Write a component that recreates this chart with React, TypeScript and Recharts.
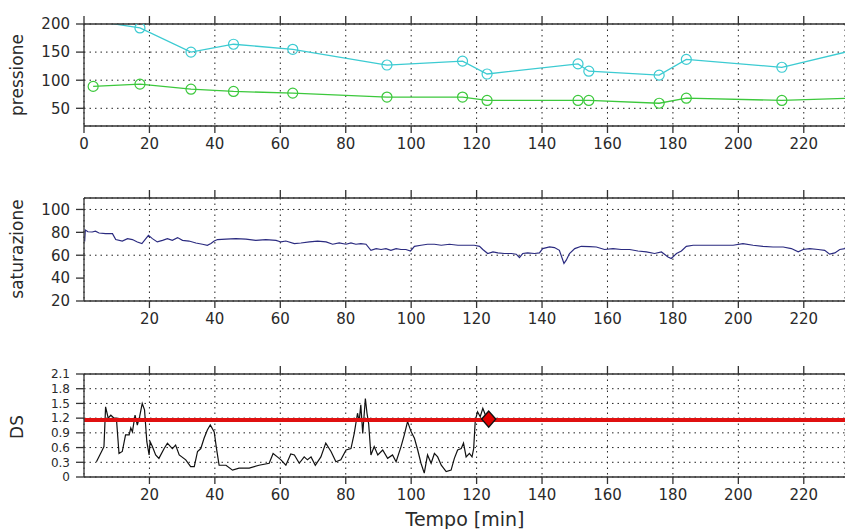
import { CartesianGrid, Line, LineChart, ReferenceDot, ReferenceLine, XAxis, YAxis } from 'recharts'

// time axis is cut off by the picture on the right, so the domain ends there
const T_MAX = 232.6
const X_TICKS_ALL = [0, 20, 40, 60, 80, 100, 120, 140, 160, 180, 200, 220]
const X_TICKS = [20, 40, 60, 80, 100, 120, 140, 160, 180, 200, 220]

// pressione: systolic (cyan) and diastolic (green) readings
const BP_T = [2.8, 17.1, 32.7, 45.7, 63.8, 92.6, 115.7, 123.2, 151, 154.3, 175.8, 184.1, 213.3, 245]
const SYS = [206, 193, 150, 164, 155, 127, 134, 111, 129, 116, 109, 137, 123, 167]
const DIA = [89, 93, 84, 80, 77, 70, 70, 64, 64, 64, 59, 68, 64, 70]
const BP_TICKS = [50, 100, 150, 200]

// saturazione
const SAT_T = [
  0.2, 0.4, 1.2, 2.5, 3.5, 4.6, 6.6, 8.7, 9.7, 11.7, 13.3, 14.8, 16.3, 17.7, 18.9, 19.7, 20.9, 22.4, 24, 25.5,
  27, 28.6, 30.1, 32.1, 34.2, 36.2, 37.7, 38.8, 39.8, 40.8, 43.4, 46.4, 49.5, 52.5, 55.6, 58.7, 60.2, 61.7, 64.3,
  66.3, 68.9, 71.4, 74, 76, 78, 80.1, 81.6, 83.1, 84.6, 86.2, 87.7, 89.3, 90.8, 92.3, 93.8, 95.4, 96.9, 98.4,
  99.8, 101, 103, 105, 107.1, 109.2, 111.7, 114.3, 116.8, 119.3, 120.9, 121.9, 123.4, 125, 126.5, 128.5, 130.6,
  132.1, 133.1, 134.1, 135.6, 137.7, 139.2, 140.2, 142.3, 143.8, 145.3, 146.7, 147.4, 148.4, 150, 152, 154.5,
  156.6, 159.1, 161.7, 164.2, 166.8, 169.3, 171.9, 174.4, 176.5, 178.5, 179.5, 181.1, 182.6, 184.1, 186.2,
  189.3, 192.3, 195.3, 198.4, 201.4, 204.5, 207.5, 210.6, 213.7, 216.2, 218.3, 219.8, 221.8, 224.4, 226.4,
  227.9, 229.5, 231, 232.6,
]
const SAT_V = [
  72, 82, 80.5, 80.3, 81, 79.4, 78.9, 78.9, 73.7, 72.4, 74.5, 73.7, 71.6, 70.2, 74.5, 77.4, 74.5, 71.6, 73, 74.5,
  73, 75.4, 73, 72.4, 70.7, 69.6, 68.7, 70.2, 72.4, 73.7, 74, 74.5, 74, 73, 73.7, 73, 71.6, 72.4, 70.2,
  70.7, 71.6, 72.4, 71.6, 69.6, 70.7, 69.6, 70.7, 69.6, 70.2, 69.6, 64.3, 65.8, 65, 65.8, 64.3, 65.8, 65, 65,
  63.7, 67.8, 68.7, 69.6, 69.6, 68.7, 69.6, 68.7, 68.7, 68.7, 67.8, 65, 61.5, 62.9, 62, 61.5, 61.5,
  60.9, 58, 61.5, 62, 61.5, 62, 65.8, 67.2, 66.7, 64.3, 52.8, 55.7, 61.5, 65.8, 67.8, 67.5,
  67.2, 65, 65.8, 65, 65, 63.7, 62.9, 61.5, 62.9, 58.5, 57.1, 61.5, 63.7, 67.8, 68.7,
  68.7, 68.7, 68.7, 68.7, 70.2, 68.7, 67.8, 67.2, 67.2, 65.8, 62.9, 65, 65.8, 65, 64.3,
  60.9, 62, 65, 65.8,
]
const SAT_TICKS = [20, 40, 60, 80, 100]

// DS
const DS_T = [
  3.8, 5.6, 6.1, 6.6, 7.4, 8.2, 9.2, 9.9, 10.7, 11.7, 12.7, 13.8, 14.3, 14.8, 15.6, 16.3, 17, 17.8, 18.5, 19.2,
  19.9, 20.2, 20.9, 21.9, 22.9, 24.5, 25.5, 27, 28, 29.1, 31.1, 32.6, 33.7, 34.7, 35.7, 36.7, 37.7, 38.6, 39.8,
  40.5, 41.3, 43.4, 45.4, 47.4, 50.5, 53.5, 56.6, 57.8, 59.1, 60.2, 61.7, 63.2, 64.3, 65.8, 67.3, 68.3, 69.4,
  70.7, 72.4, 73.9, 75.5, 77, 78.5, 80.1, 81.6, 82.6, 83.6, 84.1, 84.6, 85.2, 86, 86.5, 87, 87.7, 88.7, 89.8,
  91.3, 92.8, 94.3, 95.4, 96.9, 97.9, 98.9, 100, 101, 102, 103, 104, 105, 106.1, 107.1, 108.1, 109.2, 110.7,
  112.2, 113.2, 114.2, 115.3, 116, 116.8, 117.8, 118.6, 119.1, 119.6, 120.3, 121.1, 121.9, 122.9,
]
const DS_V = [
  0.31, 0.55, 0.62, 1.43, 1.2, 1.26, 1.2, 1.2, 0.48, 0.52, 0.86, 0.86, 1.0, 0.92, 1.26, 1.06, 1.23, 1.5, 1.37, 0.72,
  0.45, 0.72, 0.62, 0.45, 0.38, 0.58, 0.69, 0.58, 0.65, 0.45, 0.35, 0.21, 0.21, 0.52, 0.58, 0.79, 0.96, 1.06, 0.92,
  0.58, 0.24, 0.24, 0.14, 0.18, 0.18, 0.24, 0.28, 0.48, 0.41, 0.35, 0.24, 0.47, 0.45, 0.28, 0.41, 0.35, 0.41,
  0.24, 0.41, 0.69, 0.52, 0.31, 0.35, 0.55, 0.58, 0.89, 1.3, 1.13, 1.47, 0.89, 1.6, 1.3, 1.09, 0.45, 0.62, 0.45,
  0.55, 0.38, 0.45, 0.31, 0.62, 0.86, 1.13, 0.92, 0.79, 0.55, 0.28, 0.08, 0.45, 0.28, 0.48, 0.41, 0.24, 0.11,
  0.14, 0.38, 0.55, 0.58, 0.69, 0.41, 0.48, 0.41, 0.58, 1.16, 1.33, 1.23, 1.4, 1.23,
]
const DS_THRESHOLD = 1.16
const DS_LAST = { t: 123.7, ds: 1.18 }
const DS_TICKS = [0, 0.3, 0.6, 0.9, 1.2, 1.5, 1.8, 2.1]

const bpData = BP_T.map((t, i) => ({ t, sys: SYS[i], dia: DIA[i] }))
const satData = SAT_T.map((t, i) => ({ t, sat: SAT_V[i] }))
const dsData = DS_T.map((t, i) => ({ t, ds: DS_V[i] }))

const FONT = '"DejaVu Sans", sans-serif'
const INK = '#2a2a2a'
const tickStyle = { fontSize: 15, fill: INK, fontFamily: FONT }
// DS ticks sit only ~15px apart, so they get a smaller size
const dsTickStyle = { fontSize: 12, fill: INK, fontFamily: FONT }
const axisLine = { stroke: '#333', strokeWidth: 1.3 }
const W = 845
const H = 160

// open circle markers, hidden for readings that fall outside the visible window
const ringDot = (color: string, key: 'sys' | 'dia') => (props: any) => {
  const { cx, cy, payload, index } = props
  if (payload.t > T_MAX || payload[key] > 200) return <g key={index} />
  return <circle key={index} cx={cx} cy={cy} r={5} fill="none" stroke={color} strokeWidth={1.2} />
}

function timeAxes(ticks: number[], topTicks: number[], bottomHeight: number) {
  return [
    <XAxis
      key="b"
      dataKey="t"
      type="number"
      domain={[0, T_MAX]}
      allowDataOverflow
      ticks={ticks}
      interval={0}
      height={bottomHeight}
      tickSize={7}
      tickMargin={5}
      tick={tickStyle}
      axisLine={axisLine}
      tickLine={axisLine}
    />,
    <XAxis
      key="t"
      xAxisId="top"
      orientation="top"
      dataKey="t"
      type="number"
      domain={[0, T_MAX]}
      allowDataOverflow
      ticks={topTicks}
      interval={0}
      height={8}
      tickSize={8}
      tickFormatter={() => ''}
      axisLine={axisLine}
      tickLine={axisLine}
    />,
  ]
}

export default function App() {
  return (
    <div style={{ position: 'absolute', left: 0, top: 0, width: W, height: 529, background: '#fff', overflow: 'hidden' }}>
      <div style={{ position: 'absolute', left: 0, top: 0 }}>
        <LineChart width={W} height={H} data={bpData} margin={{ top: 16, right: 0, bottom: 0, left: 0 }}>
          <CartesianGrid stroke="#222" strokeDasharray="1.5 4" />
          {timeAxes(X_TICKS_ALL, X_TICKS_ALL, 34)}
          <YAxis
            domain={[18.5, 200]}
            allowDataOverflow
            ticks={BP_TICKS}
            width={84}
            tickSize={8}
            tickMargin={6}
            tick={tickStyle}
            axisLine={axisLine}
            tickLine={axisLine}
          />
          <Line
            type="linear"
            dataKey="sys"
            stroke="#3ccbd2"
            strokeWidth={1.3}
            dot={ringDot('#3ccbd2', 'sys')}
            isAnimationActive={false}
          />
          <Line
            type="linear"
            dataKey="dia"
            stroke="#3cc83c"
            strokeWidth={1.3}
            dot={ringDot('#3cc83c', 'dia')}
            isAnimationActive={false}
          />
        </LineChart>
      </div>

      <div style={{ position: 'absolute', left: 0, top: 174 }}>
        <LineChart width={W} height={H} data={satData} margin={{ top: 16, right: 0, bottom: 0, left: 0 }}>
          <CartesianGrid stroke="#222" strokeDasharray="1.5 4" />
          {timeAxes(X_TICKS, X_TICKS, 33)}
          <YAxis
            domain={[20, 110]}
            allowDataOverflow
            ticks={SAT_TICKS}
            width={84}
            tickSize={8}
            tickMargin={6}
            tick={tickStyle}
            axisLine={axisLine}
            tickLine={axisLine}
          />
          <Line type="linear" dataKey="sat" stroke="#2b2b80" strokeWidth={1.2} dot={false} isAnimationActive={false} />
        </LineChart>
      </div>

      <div style={{ position: 'absolute', left: 0, top: 350 }}>
        <LineChart width={W} height={H} data={dsData} margin={{ top: 16, right: 0, bottom: 0, left: 0 }}>
          <CartesianGrid stroke="#222" strokeDasharray="1.5 4" />
          {timeAxes(X_TICKS, X_TICKS, 33)}
          <YAxis
            domain={[0, 2.1]}
            allowDataOverflow
            ticks={DS_TICKS}
            tickFormatter={(v: number) => (v === 0 ? '0' : v.toFixed(1))}
            width={84}
            tickSize={8}
            tickMargin={6}
            tick={dsTickStyle}
            axisLine={axisLine}
            tickLine={axisLine}
            interval={0}
          />
          <Line type="linear" dataKey="ds" stroke="#111" strokeWidth={1.2} dot={false} isAnimationActive={false} />
          <ReferenceLine y={DS_THRESHOLD} stroke="#e01010" strokeWidth={4} />
          <ReferenceDot
            x={DS_LAST.t}
            y={DS_LAST.ds}
            r={8}
            shape={(p: any) => (
              <polygon
                points={`${p.cx},${p.cy - 8} ${p.cx + 7},${p.cy} ${p.cx},${p.cy + 8} ${p.cx - 7},${p.cy}`}
                fill="#e00000"
                stroke="#111"
                strokeWidth={1.5}
              />
            )}
          />
        </LineChart>
      </div>

      <svg width={W} height={529} style={{ position: 'absolute', left: 0, top: 0, pointerEvents: 'none' }}>
        <g fontFamily={FONT} fill={INK} fontSize={17} textAnchor="middle">
          <text x={23} y={75} transform="rotate(-90 23 75)">pressione</text>
          <text x={23} y={249} transform="rotate(-90 23 249)">saturazione</text>
          <text x={23} y={427} transform="rotate(-90 23 427)">DS</text>
          <text x={465} y={526} fontSize={19}>Tempo [min]</text>
        </g>
      </svg>
    </div>
  )
}
